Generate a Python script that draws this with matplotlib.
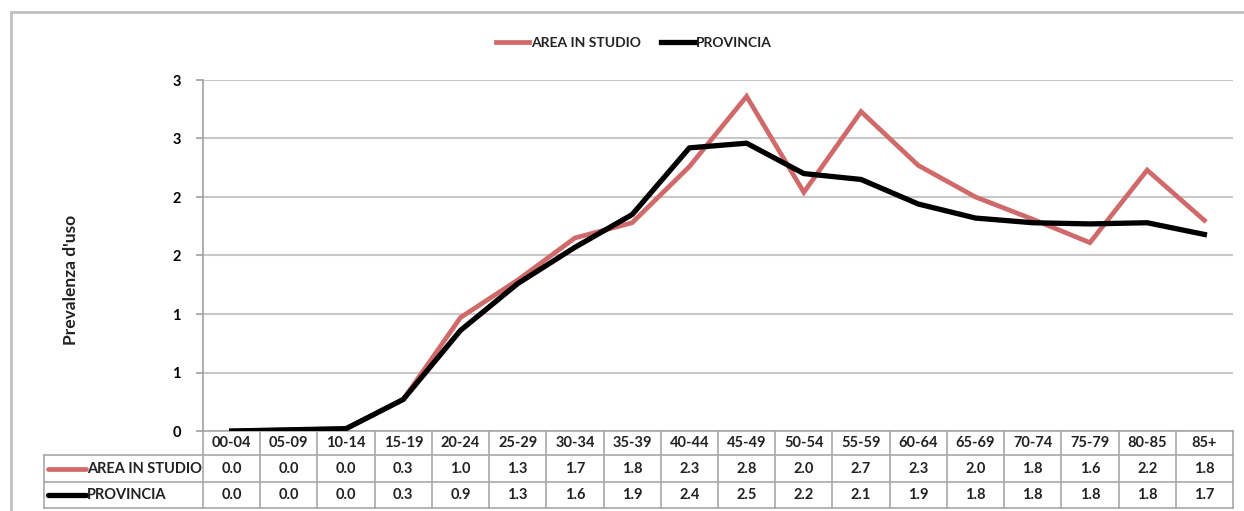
import matplotlib.pyplot as plt
from matplotlib.patches import Rectangle
from matplotlib.lines import Line2D
from matplotlib.ticker import MultipleLocator, FuncFormatter

# age groups and values
categories = ['00-04', '05-09', '10-14', '15-19', '20-24', '25-29', '30-34', '35-39', '40-44',
              '45-49', '50-54', '55-59', '60-64', '65-69', '70-74', '75-79', '80-85', '85+']
area_studio = [0.00, 0.01, 0.02, 0.27, 0.97, 1.29, 1.65, 1.78, 2.26,
               2.86, 2.04, 2.73, 2.27, 2.00, 1.81, 1.61, 2.23, 1.80]
provincia = [0.00, 0.01, 0.02, 0.27, 0.86, 1.26, 1.57, 1.85, 2.42,
             2.46, 2.20, 2.15, 1.94, 1.82, 1.78, 1.77, 1.78, 1.68]
area_table = ['0.0', '0.0', '0.0', '0.3', '1.0', '1.3', '1.7', '1.8', '2.3',
              '2.8', '2.0', '2.7', '2.3', '2.0', '1.8', '1.6', '2.2', '1.8']
prov_table = ['0.0', '0.0', '0.0', '0.3', '0.9', '1.3', '1.6', '1.9', '2.4',
              '2.5', '2.2', '2.1', '1.9', '1.8', '1.8', '1.8', '1.8', '1.7']
series_names = ['AREA IN STUDIO', 'PROVINCIA']

RED = '#d06a6a'
GRID = '#c8c8c8'
plt.rcParams['font.family'] = ['Lato', 'DejaVu Sans']

fig = plt.figure(figsize=(12.44, 5.11), dpi=100)
W, H = 1244, 511
ax = fig.add_axes([203 / W, 1 - 431 / H, 1030 / W, 351 / H])

x = list(range(len(categories)))
ax.plot(x, area_studio, color=RED, lw=3.4, solid_joinstyle='miter', zorder=3)
ax.plot(x, provincia, color='black', lw=3.8, solid_joinstyle='round', zorder=4)

ax.set_xlim(-0.5, len(categories) - 0.5)
ax.set_ylim(0, 3)
ax.yaxis.set_major_locator(MultipleLocator(0.5))
ax.yaxis.set_major_formatter(FuncFormatter(lambda v, p: f"{int(v + 0.5)}"))
ax.grid(axis='y', color=GRID, lw=1.5)
ax.set_axisbelow(True)
for s in ['top', 'right', 'bottom']:
    ax.spines[s].set_visible(False)
ax.spines['left'].set_color('#a0a0a0')
ax.spines['left'].set_linewidth(1.2)
ax.set_xticks([])
ax.tick_params(axis='y', length=5, color='#a0a0a0', width=1.2, pad=11, labelsize=10.5)
for t in ax.get_yticklabels():
    t.set_fontweight('bold')

ax.text(-0.128, 0.43, "Prevalenza d'uso", transform=ax.transAxes, rotation=90,
        ha='center', va='center', fontsize=12.5, fontweight='bold', color='#222222')

# data table below the plot
tr = ax.transAxes
row_y = [0, -24 / 351, -51 / 351, -77 / 351]
lab_x = (44 - 203) / 1030
n = len(categories)
kw = dict(color='#a8a8a8', lw=1.2, transform=tr, clip_on=False)
ax.plot([0, 1], [row_y[0]] * 2, **kw)
for yy in row_y[1:]:
    ax.plot([lab_x, 1], [yy] * 2, **kw)
ax.plot([lab_x, lab_x], [row_y[1], row_y[3]], **kw)
for i in range(n + 1):
    ax.plot([i / n, i / n], [row_y[0], row_y[3]], **kw)

tkw = dict(transform=tr, ha='center', va='center', fontsize=10.5, fontweight='bold', color='#222222')
for i in range(n):
    cx = (i + 0.5) / n
    ax.text(cx, (row_y[0] + row_y[1]) / 2, categories[i], **tkw)
    ax.text(cx, (row_y[1] + row_y[2]) / 2, area_table[i], **tkw)
    ax.text(cx, (row_y[2] + row_y[3]) / 2, prov_table[i], **tkw)

# row labels with legend keys
key0 = (48 - 203) / 1030
key1 = (86 - 203) / 1030
for r, (name, col, lw) in enumerate(zip(series_names, [RED, 'black'], [3.4, 3.8])):
    yc = (row_y[r + 1] + row_y[r + 2]) / 2
    ax.plot([key0, key1], [yc, yc], color=col, lw=lw, transform=tr, clip_on=False,
            solid_capstyle='round')
    ax.text(key1 + 0.001, yc, name, transform=tr, ha='left', va='center',
            fontsize=10.5, fontweight='bold', color='#222222')

# legend at the top
handles = [Line2D([], [], color=RED, lw=3.4), Line2D([], [], color='black', lw=3.8)]
leg = fig.legend(handles, series_names, loc='center', bbox_to_anchor=(634 / W, 1 - 43 / H),
                 ncol=2, frameon=False, handlelength=2.4, handletextpad=0.1,
                 columnspacing=1.5, prop={'size': 10, 'weight': 'bold'})
for t in leg.get_texts():
    t.set_color('#222222')

# outer chart frame
fig.patches.append(Rectangle((11 / W, -0.2), 1.2, 1 - 12 / H + 0.2, transform=fig.transFigure,
                             fill=False, edgecolor='#c0c0c0', lw=2))

fig.savefig('out.png', dpi=100)
